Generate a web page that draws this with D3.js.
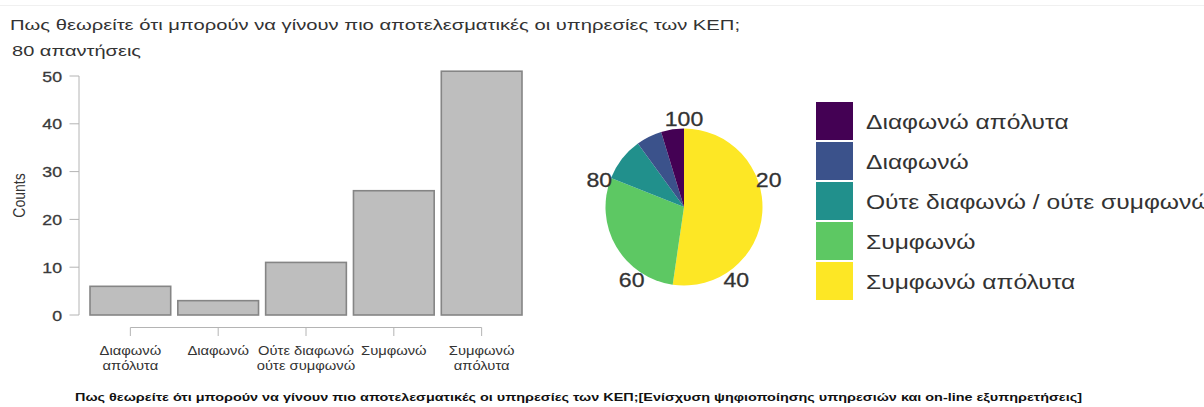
<!DOCTYPE html>
<html>
<head>
<meta charset="utf-8">
<script src="https://cdn.jsdelivr.net/npm/d3@7"></script>
<style>
  body { margin: 0; background: #fff; }
  svg { display: block; font-family: 'Liberation Sans', Arial, sans-serif; }
</style>
</head>
<body>
<div class="chart"></div>
<script>
const titleLines = [
  'Πως θεωρείτε ότι μπορούν να γίνουν πιο αποτελεσματικές οι υπηρεσίες των ΚΕΠ;',
  '80 απαντήσεις',
];
const caption =
  'Πως θεωρείτε ότι μπορούν να γίνουν πιο αποτελεσματικές οι υπηρεσίες των ΚΕΠ;[Ενίσχυση ψηφιοποίησης υπηρεσιών και on-line εξυπηρετήσεις]';

// bar chart
const barLabels = [
  ['Διαφωνώ', 'απόλυτα'],
  ['Διαφωνώ'],
  ['Ούτε διαφωνώ', 'ούτε συμφωνώ'],
  ['Συμφωνώ'],
  ['Συμφωνώ', 'απόλυτα'],
];
const barCounts = [6, 3, 11, 26, 51];
const yTicks = [0, 10, 20, 30, 40, 50];

// pie chart (legend order), percent shares
const legendLabels = [
  'Διαφωνώ απόλυτα',
  'Διαφωνώ',
  'Ούτε διαφωνώ / ούτε συμφωνώ',
  'Συμφωνώ',
  'Συμφωνώ απόλυτα',
];
const pieShares = [4.7, 5.3, 9.0, 28.7, 52.3];
const pieColors = ['#440154', '#3b528b', '#21908c', '#5dc863', '#fde725'];
const pieTicks = [20, 40, 60, 80, 100];

const width = 1204;
const height = 407;
const sx = 1.18; // the screenshot is stretched sideways

const svg = d3
  .select('div.chart')
  .append('svg')
  .attr('width', width)
  .attr('height', height);

// thin rule at the very top
svg
  .append('line')
  .attr('x1', 0)
  .attr('x2', width)
  .attr('y1', 5.5)
  .attr('y2', 5.5)
  .attr('stroke', '#f0f0f0');

const stretched = (parent, x, y, anchor, k) => {
  return parent
    .append('text')
    .attr('transform', `translate(${x},${y}) scale(${k || sx},1)`)
    .attr('text-anchor', anchor || 'start');
};

// title
svg
  .append('text')
  .attr('x', 10)
  .attr('y', 30)
  .attr('font-size', 15)
  .attr('fill', '#333')
  .attr('textLength', 730)
  .attr('lengthAdjust', 'spacingAndGlyphs')
  .text(titleLines[0]);
svg
  .append('text')
  .attr('x', 12)
  .attr('y', 56)
  .attr('font-size', 15)
  .attr('fill', '#333')
  .attr('textLength', 129)
  .attr('lengthAdjust', 'spacingAndGlyphs')
  .text(titleLines[1]);

// ---- bar chart ----
const x = d3
  .scaleBand()
  .domain(d3.range(barCounts.length))
  .range([90, 522])
  .paddingInner(0.081)
  .paddingOuter(0);

const y = d3.scaleLinear().domain([0, 50]).range([315, 76]);

const axisColor = '#b4b4b4';

svg
  .selectAll('rect.bar')
  .data(barCounts)
  .enter()
  .append('rect')
  .attr('class', 'bar')
  .attr('x', (d, i) => x(i))
  .attr('y', (d) => y(d))
  .attr('width', x.bandwidth())
  .attr('height', (d) => y(0) - y(d))
  .attr('fill', '#bebebe')
  .attr('stroke', '#858585')
  .attr('stroke-width', 1.6);

// y axis
const yAxis = svg.append('g').attr('transform', 'translate(79,0)');
yAxis
  .append('line')
  .attr('y1', y(0))
  .attr('y2', y(50))
  .attr('stroke', axisColor);
yTicks.forEach((t) => {
  yAxis
    .append('line')
    .attr('x1', -9.5)
    .attr('x2', 0)
    .attr('y1', y(t))
    .attr('y2', y(t))
    .attr('stroke', axisColor);
  stretched(yAxis, -17, y(t) + 5.5, 'end')
    .attr('font-size', 15)
    .attr('fill', '#3a3a3a')
    .attr('stroke', '#3a3a3a')
    .attr('stroke-width', 0.3)
    .text(t);
});

svg
  .append('text')
  .attr('transform', `translate(25,${(y(0) + y(50)) / 2}) rotate(-90) scale(1,${sx})`)
  .attr('text-anchor', 'middle')
  .attr('font-size', 14)
  .attr('fill', '#333')
  .text('Counts');

// x axis
const xMid = (i) => x(i) + x.bandwidth() / 2;
svg
  .append('line')
  .attr('x1', xMid(0))
  .attr('x2', xMid(barCounts.length - 1))
  .attr('y1', 327.5)
  .attr('y2', 327.5)
  .attr('stroke', axisColor);
barLabels.forEach((lines, i) => {
  svg
    .append('line')
    .attr('x1', xMid(i))
    .attr('x2', xMid(i))
    .attr('y1', 327.5)
    .attr('y2', 336)
    .attr('stroke', axisColor);
  lines.forEach((line, j) => {
    stretched(svg, xMid(i), 355 + j * 15, 'middle')
      .attr('font-size', 12.5)
      .attr('fill', '#333')
      .text(line);
  });
});

// ---- pie ----
const cx = 684;
const cy = 207;
const radius = 78.5;

const pie = d3
  .pie()
  .sort(null)
  .value((d) => d.share);

const pieData = legendLabels
  .map((label, i) => ({ label, share: pieShares[i], color: pieColors[i] }))
  .reverse();

const arc = d3.arc().innerRadius(0).outerRadius(radius);

const pieG = svg.append('g').attr('transform', `translate(${cx},${cy})`);
pieG
  .selectAll('path')
  .data(pie(pieData))
  .enter()
  .append('path')
  .attr('d', arc)
  .attr('fill', (d) => d.data.color);

const pct = d3.scaleLinear().domain([0, 100]).range([0, 2 * Math.PI]);
pieTicks.forEach((t) => {
  const a = pct(t);
  stretched(pieG, 89 * Math.sin(a), -89 * Math.cos(a) + 7.5, 'middle', 1.1)
    .attr('font-size', 21)
    .attr('fill', '#333')
    .attr('stroke', '#333')
    .attr('stroke-width', 0.3)
    .text(t);
});

// legend
const legend = svg.append('g').attr('transform', 'translate(816,102)');
legendLabels.forEach((label, i) => {
  legend
    .append('rect')
    .attr('x', 0)
    .attr('y', i * 40)
    .attr('width', 37)
    .attr('height', 38)
    .attr('fill', pieColors[i]);
  stretched(legend, 50, i * 40 + 26.5, 'start', 1.2)
    .attr('font-size', 20.5)
    .attr('fill', '#333')
    .text(label);
});

// caption under the bar chart
svg
  .append('text')
  .attr('x', 75)
  .attr('y', 401)
  .attr('font-size', 10.5)
  .attr('font-weight', 'bold')
  .attr('fill', '#111')
  .attr('textLength', 1007)
  .attr('lengthAdjust', 'spacingAndGlyphs')
  .text(caption);
</script>
</body>
</html>
